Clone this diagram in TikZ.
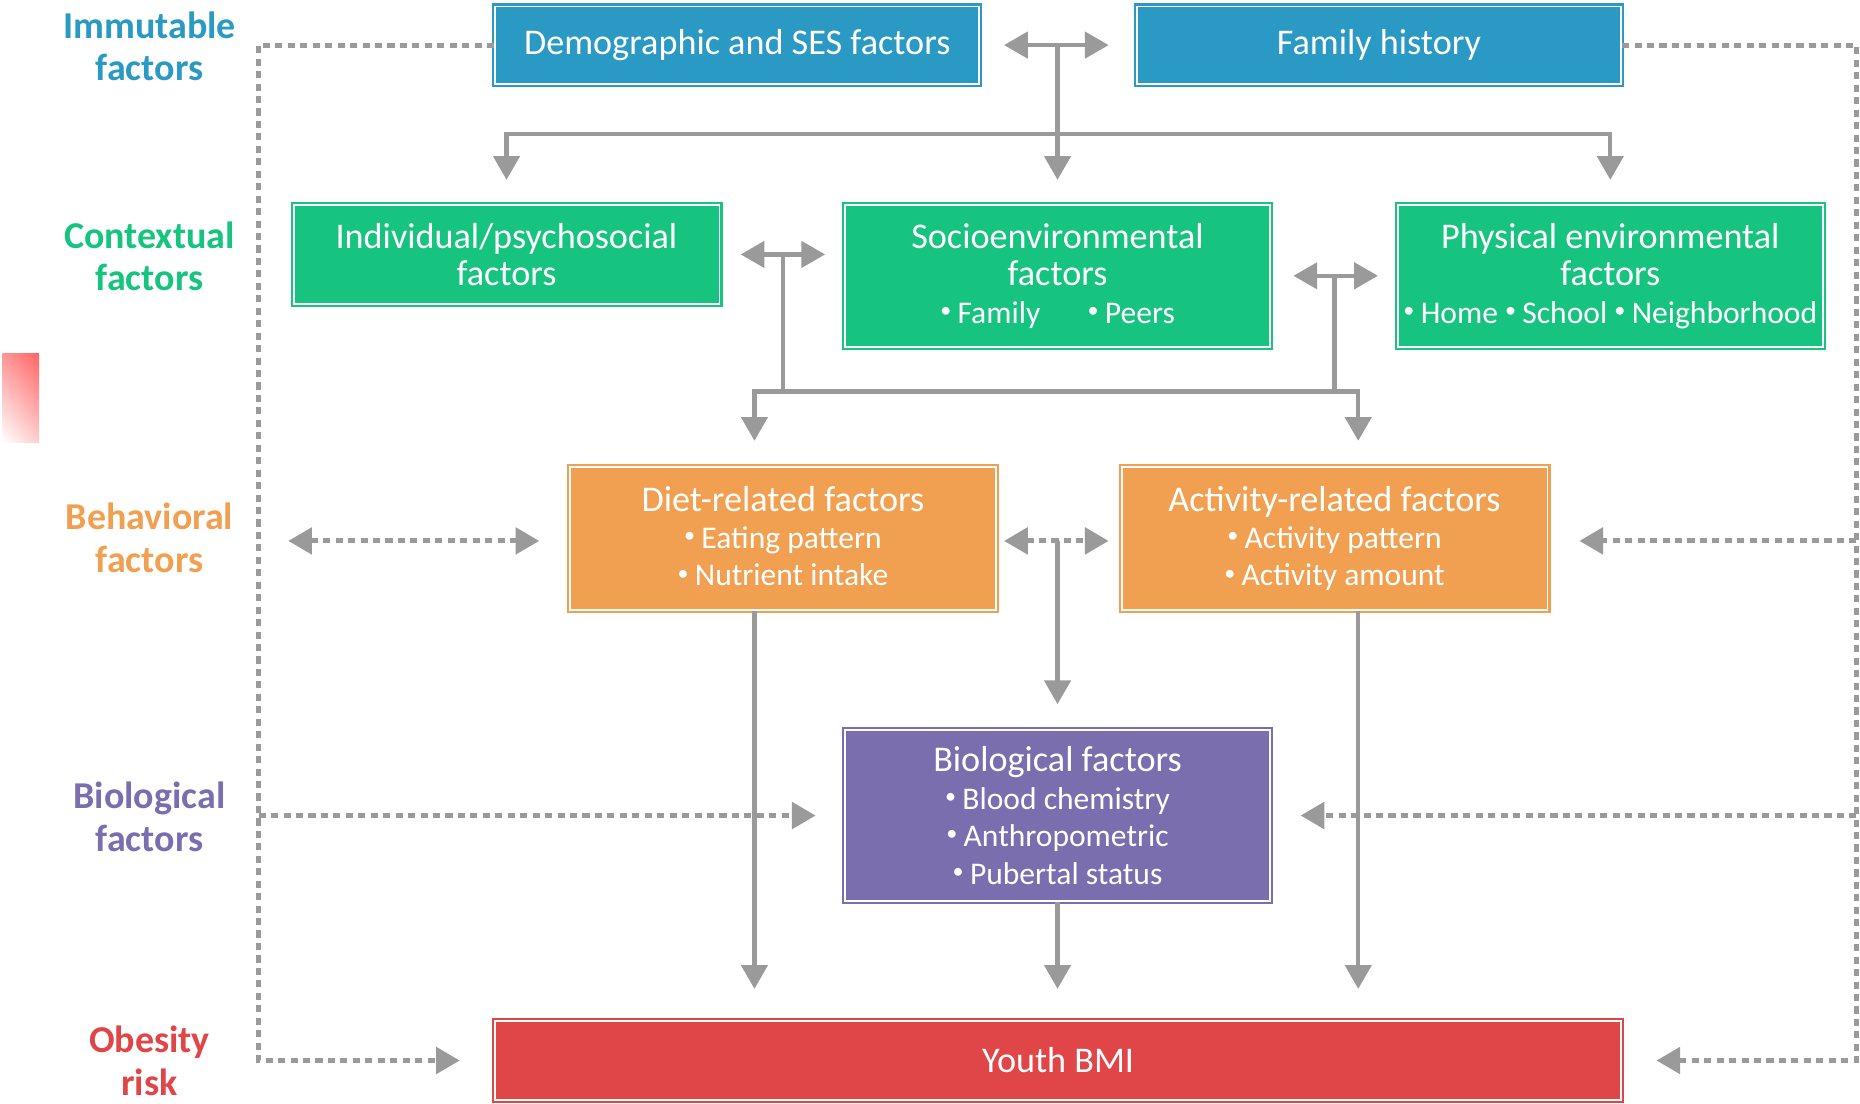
\documentclass[tikz,border=0pt]{standalone}
\usepackage{fontspec}
\usepackage{graphicx}
\setmainfont{Carlito}
\usetikzlibrary{arrows.meta,shadings}
\definecolor{cblue}{HTML}{2A99C3}
\definecolor{cgreen}{HTML}{17C47F}
\definecolor{corange}{HTML}{F0A050}
\definecolor{cpurple}{HTML}{7A6EAF}
\definecolor{cred}{HTML}{E04547}
\definecolor{cgray}{HTML}{9A9A9A}
\definecolor{swA}{RGB}{255,100,100}
\definecolor{swB}{RGB}{255,150,150}
\definecolor{swC}{RGB}{255,205,205}
\newcommand\bu{\raisebox{0.18em}{\scalebox{0.7}{•}}\hspace{0.2em}}
\newcommand\sm{\fontsize{26.6}{31.5}\selectfont}
\begin{document}
\begin{tikzpicture}[x=1pt,y=-1pt,
  fbox/.style={draw=#1, fill=#1, double=white, double distance=1.6pt,
    line width=1.8pt, inner sep=0pt, text=white, align=center,
    font=\fontsize{30.5}{31.5}\selectfont, anchor=center},
  rowlab/.style={text=#1, font=\bfseries\fontsize{32}{36}\selectfont,
    align=center, inner sep=0pt},
  tip/.tip={Triangle[length=20pt,width=22pt]},
  arr/.style={draw=cgray, line width=3.5pt, -tip},
  arrd/.style={draw=cgray, line width=3.5pt, tip-tip},
  link/.style={draw=cgray, line width=3.5pt},
  darr/.style={draw=cgray, line width=4.3pt, dash pattern=on 6pt off 4.5pt, -tip},
  darrd/.style={draw=cgray, line width=4.3pt, dash pattern=on 6pt off 4.5pt, tip-tip},
]
\useasboundingbox (0,0) rectangle (1568,930);

% stray shaded swatch at the left margin
\shade[upper right=swA, upper left=swB, lower right=swC, lower left=white]
  (2,298) rectangle (33,373);

% row labels
\node[rowlab=cblue]   (labimm) at (126,39)    {Immutable\\factors};
\node[rowlab=cgreen]  (labctx) at (126,216)   {Contextual\\factors};
\node[rowlab=corange] (labbeh) at (126,453.5) {Behavioral\\factors};
\node[rowlab=cpurple] (labbio) at (126,688.5) {Biological\\factors};
\node[rowlab=cred]    (labob)  at (126,894.5) {Obesity\\risk};

% factor boxes
\node[fbox=cblue, minimum width=408pt, minimum height=65pt] (demo) at (621.5,38)
  {Demographic and SES factors};
\node[fbox=cblue, minimum width=408pt, minimum height=65pt] (fam) at (1162.5,38)
  {Family history};
\node[fbox=cgreen, minimum width=359pt, minimum height=84pt] (indiv) at (427,214.5)
  {Individual/psychosocial\\factors};
\node[fbox=cgreen, minimum width=358pt, minimum height=120pt] (socio) at (891.5,232.5)
  {Socioenvironmental\\factors\\{\sm\bu Family\hspace{1.5em}\bu Peers}};
\node[fbox=cgreen, minimum width=358pt, minimum height=120pt] (phys) at (1357.5,232.5)
  {Physical environmental\\factors\\{\sm\bu Home \bu School \bu Neighborhood}};
\node[fbox=corange, minimum width=359pt, minimum height=121pt] (diet) at (660,454)
  {Diet-related factors\\{\sm\bu Eating pattern}\\{\sm\bu Nutrient intake\vphantom{y}}};
\node[fbox=corange, minimum width=359pt, minimum height=121pt] (act) at (1125,454)
  {Activity-related factors\\{\sm\bu Activity pattern}\\{\sm\bu Activity amount}};
\node[fbox=cpurple, minimum width=358pt, minimum height=144pt] (bio) at (891.5,687.5)
  {Biological factors\\{\sm\bu Blood chemistry}\\{\sm\bu Anthropometric}\\{\sm\bu Pubertal status}};
\node[fbox=cred, minimum width=949pt, minimum height=67pt] (bmi) at (892,894)
  {Youth BMI};

% frame, bus and row positions
\coordinate (fl) at (218,0);
\coordinate (fr) at (1565,0);
\coordinate (busA) at (0,113);
\coordinate (busB) at (0,330);
\coordinate (behl) at (243,456);

% dashed influences
\draw[darr, shorten >=29pt] (demo.west) -| (fl |- bmi.west) -- (bmi.west);
\draw[darr, shorten >=29pt] (fam.east) -| (fr |- bmi.east) -- (bmi.east);
\draw[darr, shorten >=24pt] (fl |- bio.west) -- (bio.west);
\draw[darr, shorten >=25pt] (fr |- bio.east) -- (bio.east);
\draw[darr, shorten >=26pt] (fr |- behl) -- (behl -| act.east);
\draw[darrd, shorten >=25pt] (behl) -- (behl -| diet.west);
\draw[darrd, shorten <=6pt, shorten >=10pt] (behl -| diet.east) -- (behl -| act.west);

% immutable to contextual
\draw[arrd, shorten <=20pt, shorten >=23pt] (demo.east) -- (fam.west);
\draw[arr, shorten >=20pt] (demo.east -| socio.north) -- (socio.north);
\draw[arr, shorten >=20pt] (busA -| socio.north) -| (indiv.north);
\draw[arr, shorten >=20pt] (busA -| socio.north) -| (phys.north);

% contextual to behavioral
\draw[arrd, shorten <=17pt, shorten >=16pt] (indiv.east) -- (indiv.east -| socio.west);
\draw[arrd, shorten <=19pt, shorten >=16pt] (socio.east) -- (phys.west);
\draw[link] (indiv.east -| diet.north) -- (busB -| diet.north);
\draw[link] (socio.east -| act.north) -- (busB -| act.north);
\draw[arr, shorten >=21pt] (busB -| act.north) -| ([xshift=-24pt]diet.north);
\draw[arr, shorten >=21pt] (busB -| diet.north) -| ([xshift=20pt]act.north);

% behavioral and biological to BMI
\draw[arr, shorten >=21pt] (behl -| bio.north) -- (bio.north);
\draw[arr, shorten >=26pt] ([xshift=-24pt]diet.south) -- ([xshift=-24pt]diet.south |- bmi.north);
\draw[arr, shorten >=26pt] ([xshift=20pt]act.south) -- ([xshift=20pt]act.south |- bmi.north);
\draw[arr, shorten >=26pt] (bio.south) -- (bmi.north -| bio.south);
\end{tikzpicture}
\end{document}
